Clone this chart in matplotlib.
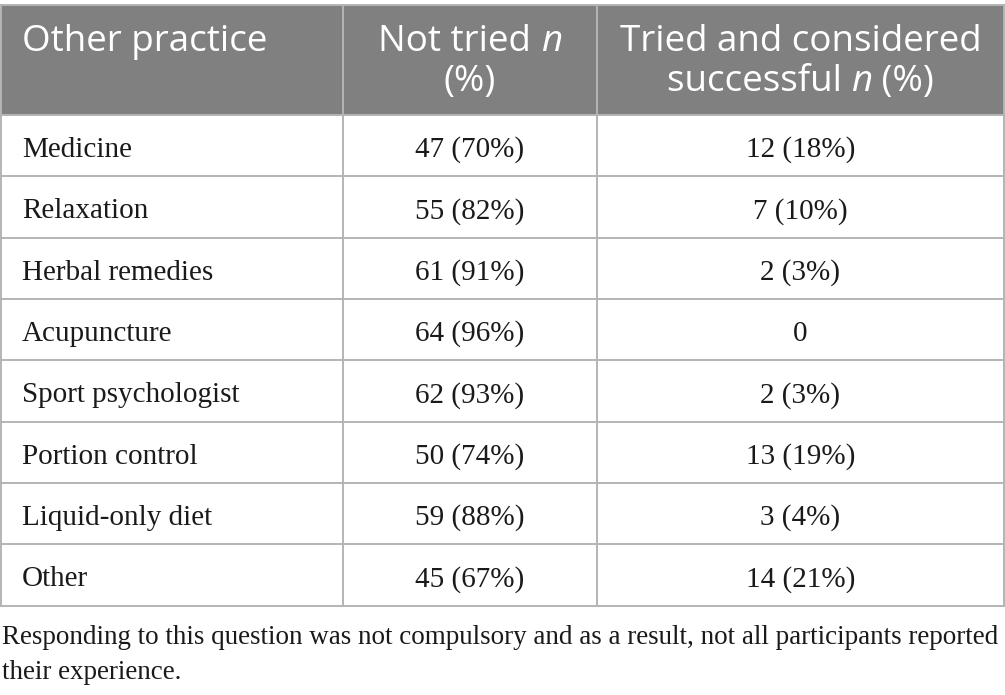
import matplotlib
matplotlib.use("Agg")
import matplotlib.pyplot as plt
from matplotlib.lines import Line2D
from matplotlib.patches import Rectangle

# ---- data ----
header_col1 = "Other practice"
header_col2 = [("Not tried ", "n", ""), ("(%)", "", "")]
header_col3 = [("Tried and considered", "", ""), ("successful ", "n", " (%)")]
practices = ["Medicine", "Relaxation", "Herbal remedies", "Acupuncture",
             "Sport psychologist", "Portion control", "Liquid-only diet", "Other"]
not_tried = ["47 (70%)", "55 (82%)", "61 (91%)", "64 (96%)",
             "62 (93%)", "50 (74%)", "59 (88%)", "45 (67%)"]
tried_success = ["12 (18%)", "7 (10%)", "2 (3%)", "0",
                 "2 (3%)", "13 (19%)", "3 (4%)", "14 (21%)"]
footnote_lines = ["Responding to this question was not compulsory and as a result, not all participants reported",
                  "their experience."]

W, H = 1005, 695
fig = plt.figure(figsize=(W / 100, H / 100), dpi=100)
ax = fig.add_axes([0, 0, 1, 1])
ax.set_xlim(0, W)
ax.set_ylim(H, 0)
ax.axis('off')
renderer = fig.canvas.get_renderer()

# layout (pixels)
x_edges = [0.8, 343, 597, 1004]
top, head_bot = 4.5, 115.0
row_h = (605.7 - head_bot) / len(practices)
bottom = head_bot + row_h * len(practices)
grid_c = '#b4b4b4'
head_c = '#808080'
txt_c = '#1a1a1a'

ax.add_patch(Rectangle((x_edges[0], top), x_edges[-1] - x_edges[0], head_bot - top,
                       facecolor=head_c, edgecolor='none', zorder=1))

lw = 1.4
ys = [top, head_bot] + [head_bot + row_h * (i + 1) for i in range(len(practices))]
for y in ys:
    ax.add_line(Line2D([x_edges[0], x_edges[-1]], [y, y], color=grid_c, lw=lw, zorder=2))
for x in x_edges:
    ax.add_line(Line2D([x, x], [top, bottom], color=grid_c, lw=lw, zorder=2))

# header text
hfs = 26.5
hfam = 'Open Sans'
hweight = 'normal'
head_base = [51, 91]
ax.text(22, head_base[0], header_col1, ha='left', va='baseline', fontsize=hfs,
        family=hfam, weight=hweight, color='white', zorder=3)


def width_of(s, style):
    if not s:
        return 0.0
    t = ax.text(0, 0, s, fontsize=hfs, family=hfam, weight=hweight, style=style)
    w = t.get_window_extent(renderer).width
    t.remove()
    return w


def draw_header(col, lines):
    cx = (x_edges[col] + x_edges[col + 1]) / 2
    for (a, it, b), yb in zip(lines, head_base):
        a2 = a.replace(" ", "\u00a0")
        b2 = b.replace(" ", "\u00a0")
        wa = width_of(a2, 'normal')
        wi = width_of(it, 'italic')
        wb = width_of(b2, 'normal')
        x0 = cx - (wa + wi + wb) / 2
        ax.text(x0, yb, a2, ha='left', va='baseline', fontsize=hfs,
                family=hfam, weight=hweight, color='white', zorder=3)
        if it:
            ax.text(x0 + wa, yb, it, ha='left', va='baseline', fontsize=hfs,
                    family=hfam, weight=hweight, style='italic', color='white', zorder=3)
        if b:
            ax.text(x0 + wa + wi, yb, b2, ha='left', va='baseline',
                    fontsize=hfs, family=hfam, weight=hweight, color='white', zorder=3)


draw_header(1, header_col2)
draw_header(2, header_col3)

# body
bfs = 21
bfam = 'Liberation Serif'
for i, (p, a, b) in enumerate(zip(practices, not_tried, tried_success)):
    yb = head_bot + row_h * (i + 0.5) + 11.4
    ax.text(22, yb, p, ha='left', va='baseline', fontsize=bfs,
            family=bfam, color=txt_c, zorder=3)
    ax.text((x_edges[1] + x_edges[2]) / 2, yb, a, ha='center', va='baseline',
            fontsize=bfs, family=bfam, color=txt_c, zorder=3)
    ax.text((x_edges[2] + x_edges[3]) / 2, yb, b, ha='center', va='baseline',
            fontsize=bfs, family=bfam, color=txt_c, zorder=3)

# footnote, sized so the first line spans the table width
ffs = 19
probe = ax.text(0, 0, footnote_lines[0], fontsize=ffs, family=bfam)
fw = probe.get_window_extent(renderer).width
probe.remove()
ffs = ffs * 998.0 / fw
for line, yb in zip(footnote_lines, [644, 679]):
    ax.text(1.5, yb, line, ha='left', va='baseline', fontsize=ffs,
            family=bfam, color=txt_c, zorder=3)

fig.savefig('out.png', dpi=100, facecolor='white')
